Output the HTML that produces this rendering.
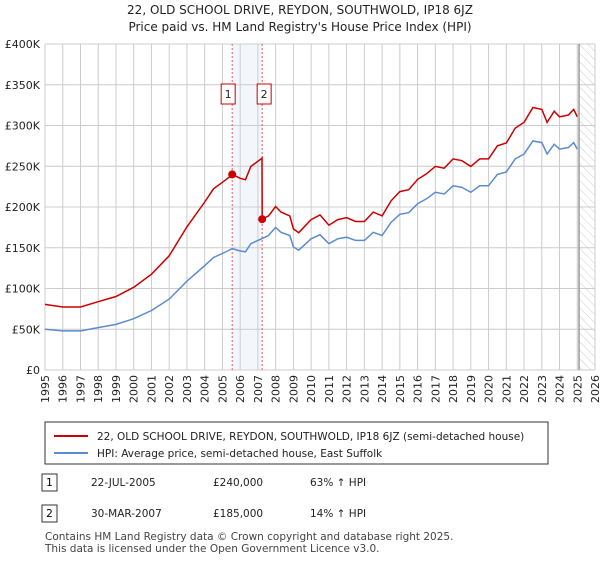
<!DOCTYPE html>
<html><head><meta charset="utf-8"><style>
body{margin:0;background:#fff;font-family:"Liberation Sans","DejaVu Sans",sans-serif;}
svg text{font-family:"DejaVu Sans","Liberation Sans",sans-serif;}
</style></head><body>
<svg id="c" width="600" height="560" viewBox="0 0 600 560" xmlns="http://www.w3.org/2000/svg">
<defs><pattern id="hatch" width="6" height="6" patternUnits="userSpaceOnUse" patternTransform="rotate(-45)"><line x1="0" y1="0" x2="0" y2="6" stroke="#ccc" stroke-width="1"/></pattern></defs>
<text x="300" y="14" text-anchor="middle" font-size="12" fill="#222">22, OLD SCHOOL DRIVE, REYDON, SOUTHWOLD, IP18 6JZ</text>
<text x="300" y="31" text-anchor="middle" font-size="12" fill="#222">Price paid vs. HM Land Registry's House Price Index (HPI)</text>
<g id="grid"></g><g id="marks"></g><g id="axes"></g>
<rect x="45" y="422" width="503" height="42" fill="#fff" stroke="#333"/>
<line x1="54" y1="436" x2="88" y2="436" stroke="#cc0000" stroke-width="2"/>
<text x="97" y="440" font-size="10.5" fill="#222">22, OLD SCHOOL DRIVE, REYDON, SOUTHWOLD, IP18 6JZ (semi-detached house)</text>
<line x1="54" y1="453" x2="88" y2="453" stroke="#5b8bd0" stroke-width="2"/>
<text x="97" y="457" font-size="10.5" fill="#222">HPI: Average price, semi-detached house, East Suffolk</text>
<rect x="42" y="474" width="15" height="17" fill="#fff" stroke="#333"/>
<text x="49.5" y="486" text-anchor="middle" font-size="10.5">1</text>
<text x="91" y="486" font-size="10.5" fill="#222">22-JUL-2005</text>
<text x="213" y="486" font-size="10.5" fill="#222">£240,000</text>
<text x="310" y="486" font-size="10.5" fill="#222">63% ↑ HPI</text>
<rect x="42" y="505" width="15" height="17" fill="#fff" stroke="#333"/>
<text x="49.5" y="517" text-anchor="middle" font-size="10.5">2</text>
<text x="91" y="517" font-size="10.5" fill="#222">30-MAR-2007</text>
<text x="213" y="517" font-size="10.5" fill="#222">£185,000</text>
<text x="310" y="517" font-size="10.5" fill="#222">14% ↑ HPI</text>
<text x="45" y="540" font-size="10.5" fill="#444">Contains HM Land Registry data © Crown copyright and database right 2025.</text>
<text x="45" y="552" font-size="10.5" fill="#444">This data is licensed under the Open Government Licence v3.0.</text>
</svg>
<script>
const hpiYears=[1995,1996,1997,1998,1999,2000,2001,2002,2003,2004,2004.5,2005,2005.3,2005.55,2006,2006.3,2006.6,2007.2,2007.6,2008,2008.3,2008.8,2009,2009.3,2010,2010.5,2011,2011.5,2012,2012.5,2013,2013.5,2014,2014.5,2015,2015.5,2016,2016.5,2017,2017.5,2018,2018.5,2019,2019.5,2020,2020.5,2021,2021.5,2022,2022.5,2023,2023.3,2023.7,2024,2024.5,2024.8,2025.0];
const hpiValues=[50,48,48,52,56,63,73,87,109,128,138,143,146,149,146,145,155,161,165,175,169,165,151,147,161,166,155,161,163,159,159,169,165,181,191,193,204,210,218,216,226,224,218,226,226,240,243,259,265,281,279,265,277,271,273,279,271];
const saleYears=[2005.55,2007.24];
const salePrices=[240,185];
const saleLabels=["1","2"];
const yTicks=[0,50,100,150,200,250,300,350,400];
const xTicks=[1995,1996,1997,1998,1999,2000,2001,2002,2003,2004,2005,2006,2007,2008,2009,2010,2011,2012,2013,2014,2015,2016,2017,2018,2019,2020,2021,2022,2023,2024,2025,2026];
const NS="http://www.w3.org/2000/svg";
const X0=45,X1=595,Y0=370,Y1=44,xmin=1995,xmax=2026,ymax=400,dataEnd=2025.1;
const sx=v=>X0+(v-xmin)/(xmax-xmin)*(X1-X0);
const sy=v=>Y0-v/ymax*(Y0-Y1);
function mk(tag,attrs,parent){const e=document.createElementNS(NS,tag);for(const k in attrs)e.setAttribute(k,attrs[k]);document.getElementById(parent).appendChild(e);return e;}
function hpiAt(t){for(let i=1;i<hpiYears.length;i++){if(t<=hpiYears[i]){const f=(t-hpiYears[i-1])/(hpiYears[i]-hpiYears[i-1]);return hpiValues[i-1]+f*(hpiValues[i]-hpiValues[i-1]);}}return hpiValues[hpiValues.length-1];}
let e;
e=mk('rect',{x:sx(saleYears[0]),y:Y1,width:sx(saleYears[1])-sx(saleYears[0]),height:Y0-Y1,fill:'#eef3fb',opacity:0.7},'grid');

e=mk('rect',{x:sx(dataEnd),y:Y1,width:X1-sx(dataEnd),height:Y0-Y1,fill:'url(#hatch)'},'grid');

xTicks.forEach(t=>{const l=mk('line',{x1:sx(t),x2:sx(t),y1:Y1,y2:Y0,stroke:'#ccc'},'grid');

const x=sx(t)+4,y=Y0+5;
const tx=mk('text',{x:x,y:y,'text-anchor':'end','font-size':'11',fill:'#222',transform:'rotate(-90 '+x+' '+y+')'},'axes');tx.textContent=t;
});
yTicks.forEach(t=>{const l=mk('line',{x1:X0,x2:X1,y1:sy(t),y2:sy(t),stroke:'#ccc'},'grid');

const tx=mk('text',{x:X0-5,y:sy(t)+4,'text-anchor':'end','font-size':'11',fill:'#222'},'axes');tx.textContent=t===0?'£0':'£'+t+'K';
});
e=mk('line',{x1:sx(dataEnd),x2:sx(dataEnd),y1:Y1,y2:Y0,stroke:'#999','stroke-width':1.5},'grid');

saleYears.forEach((s,i)=>{const l=mk('line',{x1:sx(s),x2:sx(s),y1:Y1,y2:Y0,stroke:'#e06060','stroke-dasharray':'2,2'},'grid');

const r=mk('rect',{x:sx(s)-7-(i===0?4:-2),y:84,width:14,height:20,fill:'#fff',stroke:'#cc0000'},'marks');

const t=mk('text',{x:sx(s)-(i===0?4:-2),y:98,'text-anchor':'middle','font-size':'11',fill:'#222'},'marks');t.textContent=saleLabels[i];
});
let d=hpiYears.map((t,i)=>(i?'L':'M')+sx(t).toFixed(1)+','+sy(hpiValues[i]).toFixed(1)).join(' ');
e=mk('path',{d:d,fill:'none',stroke:'#5b8bd0','stroke-width':1.5},'marks');

const r0=salePrices[0]/hpiAt(saleYears[0]),r1=salePrices[1]/hpiAt(saleYears[1]);
let pts=[];hpiYears.forEach((t,i)=>{if(t<saleYears[1])pts.push([t,hpiValues[i]*r0]);});
pts.push([saleYears[1]-0.01,hpiAt(saleYears[1])*r0]);pts.push([saleYears[1],salePrices[1]]);
hpiYears.forEach((t,i)=>{if(t>saleYears[1])pts.push([t,hpiValues[i]*r1]);});
d=pts.map((p,i)=>(i?'L':'M')+sx(p[0]).toFixed(1)+','+sy(p[1]).toFixed(1)).join(' ');
e=mk('path',{d:d,fill:'none',stroke:'#cc0000','stroke-width':1.5},'marks');

saleYears.forEach((s,i)=>{const c=mk('circle',{cx:sx(s),cy:sy(salePrices[i]),r:4,fill:'#cc0000'},'marks');
});
</script>
</body></html>
